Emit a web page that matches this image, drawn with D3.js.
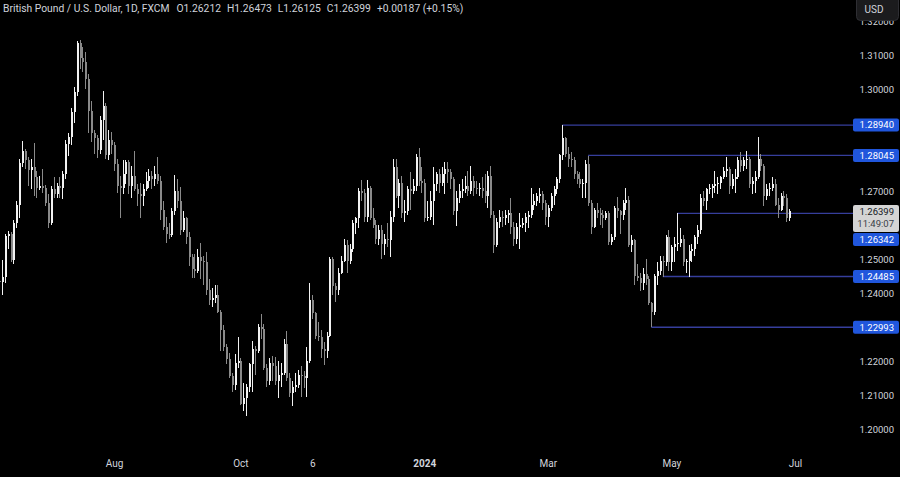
<!DOCTYPE html>
<html>
<head>
<meta charset="utf-8">
<script src="https://cdn.jsdelivr.net/npm/d3@7"></script>
<style>
  html, body { margin: 0; padding: 0; background: #000; }
  svg { display: block; }
  text { font-family: Roboto, "Noto Sans", sans-serif; }
</style>
</head>
<body>
<div id="chart"></div>
<script>
// trading calendar (weekdays, minus the two days FXCM has no daily bar)
const startDate = '2023-06-06';
const endDate = '2024-07-31';
const holidays = ['2023-12-25', '2024-01-01'];

// one line per month: Jun 2023 ... Jun 2024
const open = [
  1.2434, 1.2432, 1.2446, 1.2567, 1.2574, 1.2498, 1.2606, 1.2660, 1.2783, 1.2817, 1.2790, 1.2763, 1.2770, 1.2740, 1.2710, 1.2715, 1.2710, 1.2665, 1.2605,
  1.2705, 1.2690, 1.2715, 1.2710, 1.2750, 1.2838, 1.2860, 1.2932, 1.2990, 1.3135, 1.3090, 1.3080, 1.3030, 1.2935, 1.2870, 1.2855, 1.2820, 1.2910, 1.2950, 1.2805, 1.2850,
  1.2835, 1.2780, 1.2715, 1.2710, 1.2750, 1.2785, 1.2715, 1.2745, 1.2705, 1.2690, 1.2685, 1.2705, 1.2730, 1.2745, 1.2735, 1.2750, 1.2730, 1.2645, 1.2595, 1.2575, 1.2570, 1.2640, 1.2700,
  1.2670, 1.2585, 1.2620, 1.2565, 1.2505, 1.2470, 1.2465, 1.2505, 1.2495, 1.2490, 1.2410, 1.2380, 1.2385, 1.2395, 1.2345, 1.2290, 1.2240, 1.2205, 1.2155, 1.2130, 1.2195,
  1.2200, 1.2075, 1.2090, 1.2125, 1.2190, 1.2235, 1.2230, 1.2300, 1.2295, 1.2180, 1.2140, 1.2195, 1.2185, 1.2140, 1.2160, 1.2165, 1.2250, 1.2150, 1.2105, 1.2125, 1.2130, 1.2160,
  1.2155, 1.2150, 1.2200, 1.2380, 1.2340, 1.2275, 1.2270, 1.2235, 1.2230, 1.2275, 1.2500, 1.2420, 1.2410, 1.2460, 1.2495, 1.2540, 1.2495, 1.2530, 1.2605, 1.2620, 1.2700, 1.2695,
  1.2625, 1.2710, 1.2620, 1.2600, 1.2560, 1.2585, 1.2545, 1.2560, 1.2555, 1.2625, 1.2770, 1.2685, 1.2725, 1.2635, 1.2640, 1.2705, 1.2700, 1.2715, 1.2800, 1.2730,
  1.2725, 1.2620, 1.2625, 1.2670, 1.2720, 1.2750, 1.2725, 1.2750, 1.2765, 1.2755, 1.2735, 1.2640, 1.2680, 1.2700, 1.2705, 1.2715, 1.2700, 1.2730, 1.2710, 1.2705, 1.2710, 1.2700,
  1.2685, 1.2745, 1.2630, 1.2540, 1.2610, 1.2625, 1.2620, 1.2630, 1.2635, 1.2595, 1.2560, 1.2595, 1.2600, 1.2605, 1.2625, 1.2630, 1.2660, 1.2670, 1.2685, 1.2690, 1.2665,
  1.2625, 1.2650, 1.2685, 1.2705, 1.2735, 1.2805, 1.2855, 1.2810, 1.2795, 1.2790, 1.2750, 1.2735, 1.2720, 1.2725, 1.2780, 1.2665, 1.2595, 1.2645, 1.2635, 1.2630, 1.2620,
  1.2635, 1.2550, 1.2565, 1.2650, 1.2640, 1.2630, 1.2665, 1.2675, 1.2540, 1.2555, 1.2450, 1.2445, 1.2430, 1.2455, 1.2440, 1.2370, 1.2345, 1.2450, 1.2465, 1.2495, 1.2490, 1.2565,
  1.2490, 1.2535, 1.2545, 1.2548, 1.2560, 1.2490, 1.2495, 1.2525, 1.2530, 1.2565, 1.2585, 1.2680, 1.2670, 1.2705, 1.2710, 1.2715, 1.2720, 1.2725, 1.2740, 1.2760, 1.2765, 1.2715, 1.2735,
  1.2740, 1.2790, 1.2775, 1.2790, 1.2795, 1.2720, 1.2730, 1.2740, 1.2795, 1.2775, 1.2685, 1.2705, 1.2710, 1.2720, 1.2660, 1.2645, 1.2685, 1.2680, 1.26212
];

const high = [
  1.2448, 1.2496, 1.2575, 1.2582, 1.2580, 1.2614, 1.2670, 1.2793, 1.2848, 1.2825, 1.2800, 1.2795, 1.2842, 1.2760, 1.2745, 1.2765, 1.2718, 1.2690, 1.2715,
  1.2740, 1.2725, 1.2740, 1.2760, 1.2849, 1.2872, 1.2944, 1.3005, 1.3142, 1.3145, 1.3125, 1.3110, 1.3045, 1.2965, 1.2880, 1.2865, 1.2920, 1.2995, 1.2960, 1.2880, 1.2875,
  1.2845, 1.2795, 1.2745, 1.2790, 1.2790, 1.2790, 1.2775, 1.2818, 1.2720, 1.2725, 1.2720, 1.2755, 1.2765, 1.2760, 1.2775, 1.2800, 1.2743, 1.2670, 1.2625, 1.2605, 1.2650, 1.2746, 1.2735,
  1.2712, 1.2640, 1.2625, 1.2580, 1.2515, 1.2515, 1.2530, 1.2548, 1.2510, 1.2520, 1.2440, 1.2415, 1.2425, 1.2425, 1.2350, 1.2305, 1.2250, 1.2225, 1.2165, 1.2220, 1.2270,
  1.2210, 1.2135, 1.2132, 1.2195, 1.2260, 1.2245, 1.2310, 1.2337, 1.2310, 1.2190, 1.2210, 1.2215, 1.2212, 1.2200, 1.2195, 1.2265, 1.2289, 1.2165, 1.2140, 1.2165, 1.2175, 1.2185,
  1.2170, 1.2240, 1.2428, 1.2395, 1.2345, 1.2315, 1.2290, 1.2255, 1.2285, 1.2505, 1.2505, 1.2430, 1.2475, 1.2510, 1.2560, 1.2555, 1.2545, 1.2615, 1.2625, 1.2710, 1.2733, 1.2705,
  1.2733, 1.2715, 1.2650, 1.2615, 1.2600, 1.2600, 1.2575, 1.2605, 1.2640, 1.2793, 1.2795, 1.2735, 1.2745, 1.2675, 1.2715, 1.2755, 1.2735, 1.2808, 1.2827, 1.2770,
  1.2735, 1.2670, 1.2700, 1.2772, 1.2755, 1.2765, 1.2770, 1.2785, 1.2785, 1.2765, 1.2740, 1.2700, 1.2720, 1.2735, 1.2745, 1.2760, 1.2775, 1.2745, 1.2730, 1.2725, 1.2740, 1.2750,
  1.2760, 1.2773, 1.2640, 1.2620, 1.2645, 1.2640, 1.2645, 1.2645, 1.2680, 1.2610, 1.2605, 1.2635, 1.2620, 1.2635, 1.2640, 1.2709, 1.2690, 1.2695, 1.2710, 1.2700, 1.2675,
  1.2660, 1.2695, 1.2715, 1.2740, 1.2810, 1.2894, 1.2860, 1.2830, 1.2815, 1.2800, 1.2760, 1.2755, 1.2735, 1.2790, 1.2804, 1.2675, 1.2650, 1.2665, 1.2650, 1.2645, 1.2640,
  1.2640, 1.2575, 1.2655, 1.2682, 1.2645, 1.2675, 1.2709, 1.2685, 1.2570, 1.2560, 1.2485, 1.2460, 1.2475, 1.2500, 1.2450, 1.2375, 1.2455, 1.2490, 1.2510, 1.2510, 1.2570, 1.2585,
  1.2540, 1.2565, 1.2634, 1.2590, 1.2570, 1.2500, 1.2540, 1.2545, 1.2570, 1.2600, 1.2690, 1.2700, 1.2710, 1.2720, 1.2720, 1.2760, 1.2740, 1.2745, 1.2770, 1.2800, 1.2770, 1.2750, 1.2765,
  1.2800, 1.2815, 1.2800, 1.2818, 1.2800, 1.2740, 1.2760, 1.2860, 1.2810, 1.2780, 1.2720, 1.2725, 1.2740, 1.2735, 1.2680, 1.2695, 1.2700, 1.2690, 1.26473
];

const low = [
  1.2369, 1.2395, 1.2430, 1.2530, 1.2490, 1.2485, 1.2590, 1.2620, 1.2770, 1.2765, 1.2716, 1.2705, 1.2685, 1.2680, 1.2702, 1.2695, 1.2655, 1.2590, 1.2600,
  1.2680, 1.2680, 1.2680, 1.2677, 1.2735, 1.2804, 1.2835, 1.2900, 1.2980, 1.3060, 1.3050, 1.3000, 1.2870, 1.2844, 1.2810, 1.2798, 1.2810, 1.2850, 1.2795, 1.2790, 1.2810,
  1.2760, 1.2695, 1.2620, 1.2690, 1.2720, 1.2690, 1.2680, 1.2700, 1.2655, 1.2620, 1.2655, 1.2700, 1.2710, 1.2705, 1.2715, 1.2720, 1.2615, 1.2585, 1.2548, 1.2560, 1.2565, 1.2630, 1.2650,
  1.2572, 1.2580, 1.2545, 1.2480, 1.2445, 1.2445, 1.2460, 1.2440, 1.2425, 1.2395, 1.2365, 1.2360, 1.2370, 1.2340, 1.2230, 1.2230, 1.2190, 1.2150, 1.2110, 1.2115, 1.2180,
  1.2070, 1.2052, 1.2037, 1.2110, 1.2110, 1.2160, 1.2225, 1.2265, 1.2175, 1.2123, 1.2130, 1.2140, 1.2130, 1.2090, 1.2125, 1.2160, 1.2140, 1.2095, 1.2068, 1.2110, 1.2120, 1.2095,
  1.2120, 1.2095, 1.2195, 1.2325, 1.2265, 1.2260, 1.2210, 1.2187, 1.2210, 1.2270, 1.2395, 1.2375, 1.2395, 1.2455, 1.2490, 1.2460, 1.2485, 1.2520, 1.2575, 1.2590, 1.2670, 1.2610,
  1.2610, 1.2615, 1.2590, 1.2545, 1.2540, 1.2500, 1.2512, 1.2535, 1.2505, 1.2610, 1.2680, 1.2650, 1.2620, 1.2610, 1.2630, 1.2645, 1.2690, 1.2700, 1.2715, 1.2695,
  1.2610, 1.2611, 1.2615, 1.2600, 1.2700, 1.2695, 1.2715, 1.2690, 1.2725, 1.2705, 1.2630, 1.2597, 1.2665, 1.2680, 1.2695, 1.2685, 1.2690, 1.2685, 1.2690, 1.2685, 1.2680, 1.2665,
  1.2650, 1.2620, 1.2518, 1.2535, 1.2590, 1.2595, 1.2600, 1.2605, 1.2575, 1.2537, 1.2545, 1.2530, 1.2590, 1.2580, 1.2590, 1.2620, 1.2645, 1.2655, 1.2665, 1.2645, 1.2600,
  1.2595, 1.2640, 1.2660, 1.2690, 1.2725, 1.2790, 1.2800, 1.2770, 1.2770, 1.2735, 1.2720, 1.2710, 1.2680, 1.2680, 1.2655, 1.2575, 1.2590, 1.2620, 1.2600, 1.2590, 1.2615,
  1.2540, 1.2540, 1.2555, 1.2620, 1.2575, 1.2615, 1.2645, 1.2535, 1.2520, 1.2425, 1.2435, 1.2405, 1.2410, 1.2425, 1.2365, 1.2299, 1.2335, 1.2425, 1.2452, 1.2448, 1.2480, 1.2465,
  1.2465, 1.2490, 1.2525, 1.2535, 1.2480, 1.2460, 1.2446, 1.2490, 1.2510, 1.2545, 1.2575, 1.2655, 1.2645, 1.2690, 1.2680, 1.2695, 1.2690, 1.2705, 1.2735, 1.2740, 1.2690, 1.2705, 1.2695,
  1.2735, 1.2755, 1.2760, 1.2765, 1.2710, 1.2690, 1.2695, 1.2735, 1.2760, 1.2655, 1.2675, 1.2685, 1.2700, 1.2655, 1.2620, 1.2640, 1.2655, 1.2610, 1.26125
];

const close = [
  1.2432, 1.2446, 1.2567, 1.2574, 1.2498, 1.2606, 1.2660, 1.2783, 1.2817, 1.2790, 1.2763, 1.2770, 1.2740, 1.2710, 1.2715, 1.2710, 1.2665, 1.2605, 1.2705,
  1.2690, 1.2715, 1.2710, 1.2750, 1.2838, 1.2860, 1.2932, 1.2990, 1.3135, 1.3090, 1.3080, 1.3030, 1.2935, 1.2870, 1.2855, 1.2820, 1.2910, 1.2950, 1.2805, 1.2850, 1.2835,
  1.2780, 1.2715, 1.2710, 1.2750, 1.2785, 1.2715, 1.2745, 1.2705, 1.2690, 1.2685, 1.2705, 1.2730, 1.2745, 1.2735, 1.2750, 1.2730, 1.2645, 1.2595, 1.2575, 1.2570, 1.2640, 1.2700, 1.2670,
  1.2585, 1.2620, 1.2565, 1.2505, 1.2470, 1.2465, 1.2505, 1.2495, 1.2490, 1.2410, 1.2380, 1.2385, 1.2395, 1.2345, 1.2290, 1.2240, 1.2205, 1.2155, 1.2130, 1.2195, 1.2200,
  1.2075, 1.2090, 1.2125, 1.2190, 1.2235, 1.2230, 1.2300, 1.2295, 1.2180, 1.2140, 1.2195, 1.2185, 1.2140, 1.2160, 1.2165, 1.2250, 1.2150, 1.2105, 1.2125, 1.2130, 1.2160, 1.2155,
  1.2150, 1.2200, 1.2380, 1.2340, 1.2275, 1.2270, 1.2235, 1.2230, 1.2275, 1.2500, 1.2420, 1.2410, 1.2460, 1.2495, 1.2540, 1.2495, 1.2530, 1.2605, 1.2620, 1.2700, 1.2695, 1.2625,
  1.2710, 1.2620, 1.2600, 1.2560, 1.2585, 1.2545, 1.2560, 1.2555, 1.2625, 1.2770, 1.2685, 1.2725, 1.2635, 1.2640, 1.2705, 1.2700, 1.2715, 1.2800, 1.2730, 1.2725,
  1.2620, 1.2625, 1.2670, 1.2720, 1.2750, 1.2725, 1.2750, 1.2765, 1.2755, 1.2735, 1.2640, 1.2680, 1.2700, 1.2705, 1.2715, 1.2700, 1.2730, 1.2710, 1.2705, 1.2710, 1.2700, 1.2685,
  1.2745, 1.2630, 1.2540, 1.2610, 1.2625, 1.2620, 1.2630, 1.2635, 1.2595, 1.2560, 1.2595, 1.2600, 1.2605, 1.2625, 1.2630, 1.2660, 1.2670, 1.2685, 1.2690, 1.2665, 1.2625,
  1.2650, 1.2685, 1.2705, 1.2735, 1.2805, 1.2855, 1.2810, 1.2795, 1.2790, 1.2750, 1.2735, 1.2720, 1.2725, 1.2780, 1.2665, 1.2595, 1.2645, 1.2635, 1.2630, 1.2620, 1.2635,
  1.2550, 1.2565, 1.2650, 1.2640, 1.2630, 1.2665, 1.2675, 1.2540, 1.2555, 1.2450, 1.2445, 1.2430, 1.2455, 1.2440, 1.2370, 1.2345, 1.2450, 1.2465, 1.2495, 1.2490, 1.2565, 1.2490,
  1.2535, 1.2545, 1.2548, 1.2560, 1.2490, 1.2495, 1.2525, 1.2530, 1.2565, 1.2585, 1.2680, 1.2670, 1.2705, 1.2710, 1.2715, 1.2720, 1.2725, 1.2740, 1.2760, 1.2765, 1.2715, 1.2735, 1.2740,
  1.2790, 1.2775, 1.2790, 1.2795, 1.2720, 1.2730, 1.2740, 1.2795, 1.2775, 1.2685, 1.2705, 1.2710, 1.2720, 1.2660, 1.2645, 1.2685, 1.2680, 1.2621, 1.26399
];

const priceTicks = [1.20, 1.21, 1.22, 1.24, 1.25, 1.27, 1.30, 1.31, 1.32];
const dateTicks = ['2023-08-01', '2023-10-02', '2023-11-06', '2024-01-02', '2024-03-01', '2024-05-01', '2024-07-01'];
const dateTickLabels = ['Aug', 'Oct', '6', '2024', 'Mar', 'May', 'Jul'];

const levelPrices = [1.28940, 1.28045, 1.26342, 1.24485, 1.22993];
const levelStarts = ['2024-03-08', '2024-03-21', '2024-05-03', '2024-04-26', '2024-04-22'];

const lastPrice = 1.26399;
const countdown = '11:49:07';
const titleParts = ['British Pound / U.S. Dollar, 1D, FXCM', 'O1.26212', 'H1.26473', 'L1.26125', 'C1.26399', '+0.00187 (+0.15%)'];

const width = 900;
const height = 477;
const plotRight = 853;
const textColor = '#d1d4dc';
const upColor = '#f2f2f2';
const downColor = '#8a8a8a';
const levelColor = '#363e9c';
const labelBlue = '#2056dc';

const fmtDay = d3.utcFormat('%Y-%m-%d');
const calendar = d3.utcDay.range(new Date(startDate), new Date(endDate))
  .filter(d => d.getUTCDay() !== 0 && d.getUTCDay() !== 6)
  .map(fmtDay)
  .filter(s => !holidays.includes(s));
const barIndex = s => calendar.indexOf(s);

if (open.length !== close.length || high.length !== close.length || low.length !== close.length) {
  console.warn('OHLC length mismatch', open.length, high.length, low.length, close.length);
}

const candles = close.map((c, i) => ({
  i, date: calendar[i], o: open[i], h: high[i], l: low[i], c
}));

const x = d3.scaleLinear().domain([0.32, 295.48]).range([0, 848]);
const y = d3.scaleLinear().domain([1.20, 1.31]).range([429, 55]);

const svg = d3.select('#chart').append('svg')
  .attr('width', width)
  .attr('height', height)
  .style('background', '#000');

svg.append('defs').append('clipPath')
  .attr('id', 'plot-clip')
  .append('rect')
  .attr('x', 0).attr('y', 0)
  .attr('width', plotRight).attr('height', 445);

const plot = svg.append('g').attr('clip-path', 'url(#plot-clip)');

// support / resistance levels
plot.append('g')
  .selectAll('line')
  .data(levelPrices)
  .enter()
  .append('line')
  .attr('x1', (d, k) => x(barIndex(levelStarts[k])))
  .attr('x2', plotRight)
  .attr('y1', d => y(d))
  .attr('y2', d => y(d))
  .attr('stroke', levelColor)
  .attr('stroke-width', 1.3);

const bars = plot.append('g')
  .attr('shape-rendering', 'crispEdges')
  .selectAll('g')
  .data(candles)
  .enter()
  .append('g');

bars.append('line')
  .attr('x1', d => Math.round(x(d.i)) + 0.5)
  .attr('x2', d => Math.round(x(d.i)) + 0.5)
  .attr('y1', d => y(d.h))
  .attr('y2', d => y(d.l))
  .attr('stroke', d => d.c >= d.o ? upColor : downColor)
  .attr('stroke-width', 1);

bars.append('rect')
  .attr('x', d => Math.round(x(d.i)) - 0.5)
  .attr('width', 2)
  .attr('y', d => y(Math.max(d.o, d.c)))
  .attr('height', d => Math.max(1, Math.abs(y(d.o) - y(d.c))))
  .attr('fill', d => d.c >= d.o ? upColor : downColor);

// time axis
const xAxis = svg.append('g')
  .attr('transform', 'translate(0,456)')
  .call(d3.axisBottom(x)
    .tickValues(dateTicks.map(barIndex))
    .tickFormat((d, k) => dateTickLabels[k])
    .tickSize(0)
    .tickPadding(4));

xAxis.select('.domain').remove();
xAxis.selectAll('text')
  .attr('fill', textColor)
  .style('font-size', '10px')
  .style('font-weight', (d, k) => dateTickLabels[k] === '2024' ? 'bold' : 'normal');

// price axis
const yAxis = svg.append('g')
  .attr('transform', 'translate(894,0)')
  .call(d3.axisRight(y)
    .tickValues(priceTicks)
    .tickFormat(d3.format('.5f'))
    .tickSize(0)
    .tickPadding(0));

yAxis.select('.domain').remove();
yAxis.selectAll('text')
  .attr('fill', textColor)
  .attr('text-anchor', 'end')
  .style('font-size', '9.5px');

// current price label
const yLast = y(lastPrice);
const lastTop = yLast - 6.5;
const lastBottom = yLast + 20.5;

svg.append('rect')
  .attr('x', 853).attr('y', lastTop)
  .attr('width', 46).attr('height', lastBottom - lastTop)
  .attr('rx', 2)
  .attr('fill', '#d4d4d4');

svg.append('text')
  .attr('x', 894).attr('y', yLast)
  .attr('dy', '0.35em')
  .attr('text-anchor', 'end')
  .attr('fill', '#131722')
  .style('font-size', '9.5px')
  .text(d3.format('.5f')(lastPrice));

svg.append('text')
  .attr('x', 894).attr('y', yLast + 12)
  .attr('dy', '0.35em')
  .attr('text-anchor', 'end')
  .attr('fill', '#3a3e48')
  .style('font-size', '9.5px')
  .text(countdown);

// level labels, pushed below the current price label when they collide
const levelLabelY = levelPrices.map(p => {
  const yy = y(p);
  if (yy + 6.5 > lastTop && yy - 6.5 < lastBottom) return lastBottom + 1 + 6.5;
  return yy;
});

const levelLabels = svg.append('g')
  .selectAll('g')
  .data(levelPrices)
  .enter()
  .append('g')
  .attr('transform', (d, k) => `translate(0,${levelLabelY[k]})`);

levelLabels.append('rect')
  .attr('x', 853).attr('y', -6.5)
  .attr('width', 46).attr('height', 13)
  .attr('rx', 2)
  .attr('fill', labelBlue);

levelLabels.append('text')
  .attr('x', 894)
  .attr('dy', '0.35em')
  .attr('text-anchor', 'end')
  .attr('fill', '#ffffff')
  .style('font-size', '9.5px')
  .text(d => d3.format('.5f')(d));

// currency button
svg.append('rect')
  .attr('x', 856.5).attr('y', -4.5)
  .attr('width', 42).attr('height', 25)
  .attr('rx', 4)
  .attr('fill', '#1b1b1d')
  .attr('stroke', '#2e2e33');

svg.append('text')
  .attr('x', 874).attr('y', 9)
  .attr('dy', '0.35em')
  .attr('text-anchor', 'middle')
  .attr('fill', textColor)
  .style('font-size', '10px')
  .text('USD');

// legend line
let cursor = 3;
titleParts.forEach((part, k) => {
  const t = svg.append('text')
    .attr('x', cursor)
    .attr('y', 12)
    .attr('fill', textColor)
    .style('font-size', '10.3px')
    .text(part);
  cursor += t.node().getComputedTextLength() + (k === 0 ? 7 : 6);
});
</script>
</body>
</html>
